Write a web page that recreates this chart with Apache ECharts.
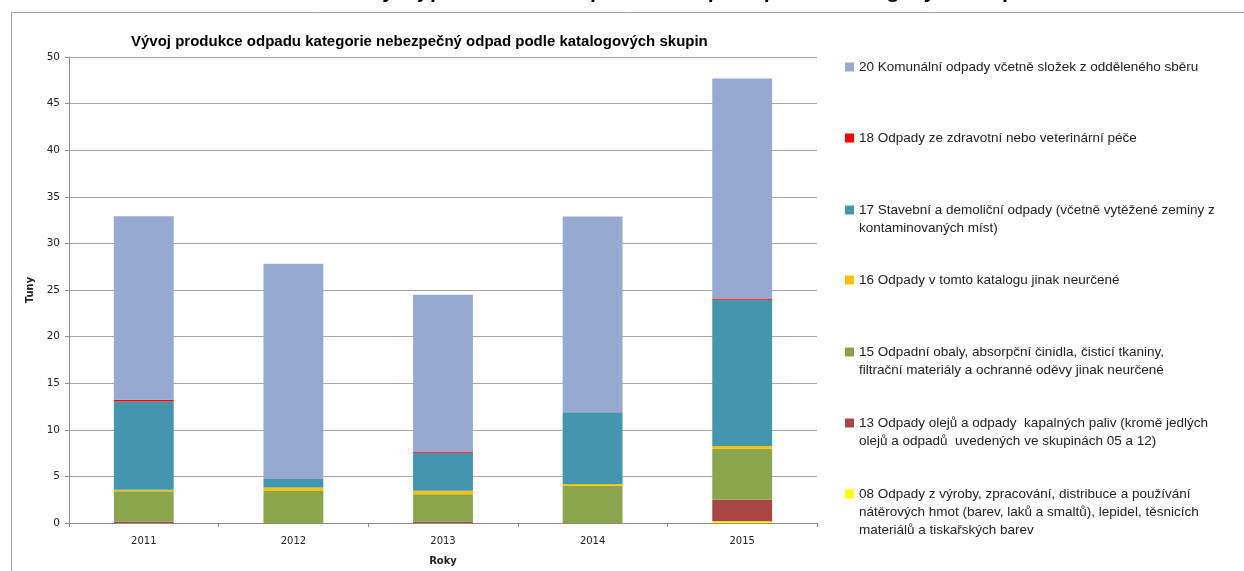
<!DOCTYPE html>
<html lang="cs">
<head>
    <meta charset="UTF-8">
    <title>Vývoj produkce odpadu</title>
    <script src="https://cdn.jsdelivr.net/npm/echarts@6/dist/echarts.min.js"></script>
    <style>
        html, body { margin: 0; padding: 0; background: #fff; }
        #chart { width: 1244px; height: 571px; }
    </style>
</head>
<body>
    <div id="chart"></div>
    <script>
        // roky na ose x
        const years = ['2011', '2012', '2013', '2014', '2015'];

        // hodnoty v tunách, odspodu nahoru ve sloupci
        const s08 = [0, 0, 0, 0, 0.2];
        const s13 = [0.15, 0, 0.15, 0, 2.3];
        const s15 = [3.25, 3.43, 2.93, 4.0, 5.46];
        const s16 = [0.18, 0.39, 0.39, 0.18, 0.29];
        const s17 = [9.46, 0.9, 4.07, 7.71, 15.7];
        const s18 = [0.18, 0, 0.14, 0, 0.15];
        const s20 = [19.7, 23.1, 16.8, 21.0, 23.6];

        const names = {
            s08: '08 Odpady z výroby, zpracování, distribuce a používání\nnátěrových hmot (barev, laků a smaltů), lepidel, těsnicích\nmateriálů a tiskařských barev',
            s13: '13 Odpady olejů a odpady  kapalných paliv (kromě jedlých\nolejů a odpadů  uvedených ve skupinách 05 a 12)',
            s15: '15 Odpadní obaly, absorpční činidla, čisticí tkaniny,\nfiltrační materiály a ochranné oděvy jinak neurčené',
            s16: '16 Odpady v tomto katalogu jinak neurčené',
            s17: '17 Stavební a demoliční odpady (včetně vytěžené zeminy z\nkontaminovaných míst)',
            s18: '18 Odpady ze zdravotní nebo veterinární péče',
            s20: '20 Komunální odpady včetně složek z odděleného sběru'
        };

        const colors = {
            s08: '#FFFF00',
            s13: '#A84644',
            s15: '#8AA54B',
            s16: '#FFC000',
            s17: '#4297AF',
            s18: '#FF0000',
            s20: '#95A9D1'
        };

        const seriesData = { s08, s13, s15, s16, s17, s18, s20 };
        const order = ['s08', 's13', 's15', 's16', 's17', 's18', 's20'];

        // legenda: y první řádky každé položky
        const legendRows = [
            ['s20', 67], ['s18', 138], ['s17', 210], ['s16', 280],
            ['s15', 352], ['s13', 423], ['s08', 494]
        ];
        const lh = 18;
        const legends = legendRows.map(([key, y]) => {
            const n = names[key].split('\n').length;
            // prázdné řádky nahoře, aby ikonka seděla u prvního řádku
            const pad = '\n'.repeat(n - 1);
            return {
                data: [names[key]],
                formatter: name => pad + name,
                orient: 'vertical',
                left: 845,
                top: y - (2 * n - 1) * lh / 2,
                padding: 0,
                icon: 'rect',
                itemWidth: 9,
                itemHeight: 9,
                itemGap: 4,
                selectedMode: false,
                textStyle: {
                    fontFamily: 'Liberation Sans',
                    fontSize: 13.5,
                    color: '#222',
                    lineHeight: lh
                }
            };
        });

        const chart = echarts.init(document.getElementById('chart'));

        const option = {
            animation: false,
            title: {
                text: 'Vývoj produkce odpadu kategorie nebezpečný odpad podle katalogových skupin',
                left: 126,
                top: 29,
                textStyle: {
                    fontFamily: 'Liberation Sans',
                    fontSize: 15,
                    fontWeight: 'bold',
                    color: '#000'
                }
            },
            legend: legends,
            grid: { left: 69, right: 427, top: 57, bottom: 48 },
            xAxis: {
                type: 'category',
                data: years,
                name: 'Roky',
                nameLocation: 'middle',
                nameGap: 33,
                nameTextStyle: { fontFamily: 'DejaVu Sans', fontSize: 10, fontWeight: 'bold', color: '#222' },
                axisLine: { lineStyle: { color: '#8c8c8c' } },
                axisTick: { show: true, length: 4, lineStyle: { color: '#8c8c8c' } },
                axisLabel: { fontFamily: 'DejaVu Sans', fontSize: 10, color: '#222', margin: 13 }
            },
            yAxis: {
                type: 'value',
                min: 0,
                max: 50,
                interval: 5,
                name: 'Tuny',
                nameLocation: 'middle',
                nameGap: 29,
                nameTextStyle: { fontFamily: 'DejaVu Sans', fontSize: 10, fontWeight: 'bold', color: '#222' },
                axisLine: { show: true, lineStyle: { color: '#8c8c8c' } },
                axisTick: { show: true, length: 4, lineStyle: { color: '#8c8c8c' } },
                axisLabel: { fontFamily: 'DejaVu Sans', fontSize: 10.5, color: '#222', margin: 9 },
                splitLine: { lineStyle: { color: '#a6a6a6' } }
            },
            series: order.map(key => ({
                name: names[key],
                type: 'bar',
                stack: 'total',
                barCategoryGap: '60%',
                data: seriesData[key],
                itemStyle: { color: colors[key] }
            })),
            graphic: [
                // rámeček okolo grafu
                { type: 'line', shape: { x1: 11, y1: 12.5, x2: 1244, y2: 12.5 }, style: { stroke: '#a0a0a0', lineWidth: 1 } },
                { type: 'line', shape: { x1: 11.5, y1: 12, x2: 11.5, y2: 571 }, style: { stroke: '#a0a0a0', lineWidth: 1 } },
                // oříznutý nadpis stránky nahoře
                {
                    type: 'text',
                    left: 370,
                    top: -18,
                    style: {
                        text: 'Vývoj produkce nebezpečného odpadu podle katalogových skupin',
                        font: 'italic bold 21px "Liberation Sans"',
                        fill: '#000'
                    }
                }
            ]
        };

        chart.setOption(option);
    </script>
</body>
</html>
